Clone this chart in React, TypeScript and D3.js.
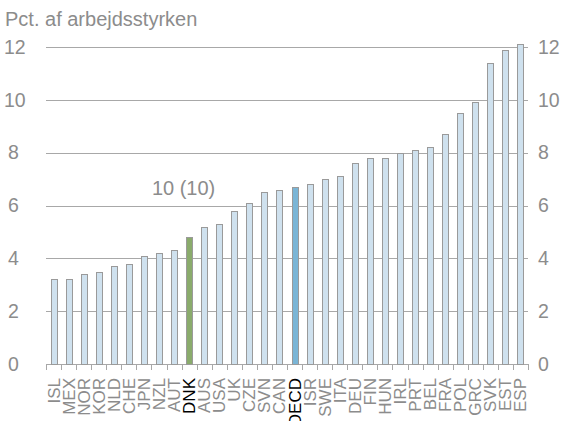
import { useRef, useEffect } from 'react';
import * as d3 from 'd3';

const countries = ['ISL', 'MEX', 'NOR', 'KOR', 'NLD', 'CHE', 'JPN', 'NZL', 'AUT', 'DNK', 'AUS', 'USA', 'UK', 'CZE', 'SVN', 'CAN', 'OECD', 'ISR', 'SWE', 'ITA', 'DEU', 'FIN', 'HUN', 'IRL', 'PRT', 'BEL', 'FRA', 'POL', 'GRC', 'SVK', 'EST', 'ESP'];
const unemployment = [3.2, 3.2, 3.4, 3.5, 3.7, 3.8, 4.1, 4.2, 4.3, 4.8, 5.2, 5.3, 5.8, 6.1, 6.5, 6.6, 6.7, 6.8, 7.0, 7.1, 7.6, 7.8, 7.8, 8.0, 8.1, 8.2, 8.7, 9.5, 9.9, 11.4, 11.9, 12.1];
const yTicks = [0, 2, 4, 6, 8, 10, 12];
const highlight: Record<string, string> = { DNK: '#8aab6c', OECD: '#7ab5d6' };
const annotation = { label: '10 (10)', at: 'DNK', value: 6.4 };
const title = 'Pct. af arbejdsstyrken';

const W = 566;
const H = 421;
const FONT = '"Liberation Sans", Arial, sans-serif';
const GREY = '#8c8c8c';

export default function App() {
  const svgRef = useRef<SVGSVGElement>(null);

  useEffect(() => {
    if (!svgRef.current) return;
    const svg = d3.select(svgRef.current);
    svg.selectAll('*').remove();

    const x = d3.scaleBand().domain(countries).range([46, 528]).padding(0);
    const y = d3.scaleLinear().domain([0, 12]).range([364, 47]);
    const barW = 6;

    // title
    svg.append('text').attr('x', 5).attr('y', 26)
      .attr('font-size', 20).attr('fill', GREY).text(title);

    // gridlines
    svg.append('g').selectAll('line').data(yTicks).join('line')
      .attr('x1', 46).attr('x2', 528)
      .attr('y1', (d) => Math.round(y(d)) + 0.5).attr('y2', (d) => Math.round(y(d)) + 0.5)
      .attr('stroke', '#a8a8a8').attr('stroke-width', 1);

    // y labels left and right
    svg.append('g').selectAll('text').data(yTicks).join('text')
      .attr('x', (d) => (d >= 10 ? 4 : 8)).attr('y', (d) => y(d)).attr('dy', '0.35em')
      .attr('font-size', 19.5).attr('fill', GREY).text((d) => d);
    svg.append('g').selectAll('text').data(yTicks).join('text')
      .attr('x', 538).attr('y', (d) => y(d)).attr('dy', '0.35em')
      .attr('font-size', 19.5).attr('fill', GREY).text((d) => d);

    // bars
    svg.append('g').selectAll('rect').data(countries).join('rect')
      .attr('x', (d) => Math.round((x(d) ?? 0) + x.bandwidth() / 2 - barW / 2) + 0.5)
      .attr('y', (_, i) => Math.round(y(unemployment[i])) + 0.5)
      .attr('width', barW)
      .attr('height', (_, i) => Math.round(y(0)) - Math.round(y(unemployment[i])))
      .attr('fill', (d) => highlight[d] ?? '#cfe1ee')
      .attr('stroke', '#9a9a9a').attr('stroke-width', 1);

    // x axis ticks at category boundaries
    const bounds = countries.map((c) => x(c) ?? 0).concat([x.range()[1]]);
    svg.append('g').selectAll('line').data(bounds).join('line')
      .attr('x1', (d) => Math.round(d) + 0.5).attr('x2', (d) => Math.round(d) + 0.5)
      .attr('y1', Math.round(y(0))).attr('y2', Math.round(y(0)) + 6)
      .attr('stroke', '#a8a8a8');

    // category labels
    svg.append('g').selectAll('text').data(countries).join('text')
      .attr('transform', (d) => `translate(${(x(d) ?? 0) + x.bandwidth() / 2 + 6},378) rotate(-90)`)
      .attr('text-anchor', 'end')
      .attr('font-size', 17)
      .attr('fill', (d) => (highlight[d] ? '#000' : GREY))
      .text((d) => d);

    // annotation
    svg.append('text')
      .attr('x', (x(annotation.at) ?? 0) + 2).attr('y', y(annotation.value))
      .attr('text-anchor', 'middle').attr('font-size', 20).attr('fill', GREY)
      .text(annotation.label);
  }, []);

  return (
    <svg ref={svgRef} width={W} height={H}
      style={{ position: 'absolute', left: 0, top: 0, fontFamily: FONT, background: '#fff' }} />
  );
}
